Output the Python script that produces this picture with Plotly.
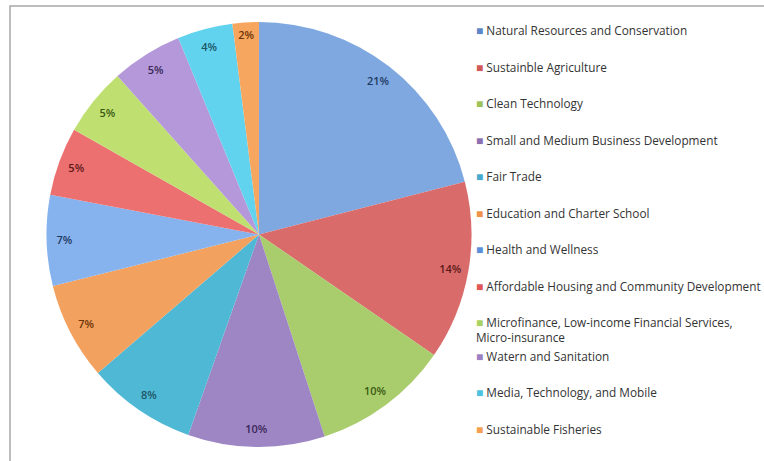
import plotly.graph_objects as go

categories = [
    "Natural Resources and Conservation",
    "Sustainble Agriculture",
    "Clean Technology",
    "Small and Medium Business Development",
    "Fair Trade",
    "Education and Charter School",
    "Health and Wellness",
    "Affordable Housing and Community Development",
    "Microfinance, Low-income Financial Services,<br>Micro-insurance",
    "Watern and Sanitation",
    "Media, Technology, and Mobile",
    "Sustainable Fisheries",
]
# shares (%); they round to the printed labels
values = [21.0, 13.6, 10.4, 10.4, 8.3, 7.4, 6.9, 5.2, 5.2, 5.4, 4.2, 2.0]

slice_colors = ["#7FA8E0", "#D96C6A", "#A9CD6C", "#9E85C4", "#4FB9D5", "#F3A15F",
                "#86B2EE", "#EC7070", "#BFE071", "#B498DA", "#62D3EE", "#F7A65F"]
legend_colors = ["#5B87C8", "#D05858", "#9DC25A", "#8A70B0", "#45AACB", "#F0924A",
                 "#5B8FDA", "#E05656", "#A8D260", "#9C80C4", "#4CC2E0", "#F5A050"]
text_colors = ["#1E3B63", "#5E1A1A", "#3B5A12", "#3A2858", "#1C5566", "#6E3508",
               "#1E3B63", "#5E1A1A", "#3B5A12", "#3A2858", "#1C5566", "#6E3508"]
groups = ["g0", "g1", "g2", "g3", "g4", "g5", "g6", "g7", "g8", "g8", "g10", "g11"]

pie_domain = dict(x=[46.5/764, 471.5/764], y=[14/461, 439/461])

fig = go.Figure()
# Base pie: the coloured slices
fig.add_trace(go.Pie(
    labels=categories, values=values, sort=False, direction="clockwise", rotation=0,
    marker=dict(colors=slice_colors, line=dict(width=0)),
    textinfo="none", showlegend=False, hoverinfo="label+percent",
    domain=pie_domain,
))
# Transparent ring carrying the percentage labels near the outer edge
fig.add_trace(go.Pie(
    labels=categories, values=values, sort=False, direction="clockwise", rotation=0,
    hole=0.83,
    marker=dict(colors=["rgba(0,0,0,0)"] * len(values), line=dict(width=0)),
    textposition="inside", insidetextorientation="horizontal",
    texttemplate="%{percent:.0%}",
    textfont=dict(family="Open Sans", size=11, color=text_colors, weight=600),
    showlegend=False, hoverinfo="skip",
    domain=pie_domain,
))
# Legend entries: small coloured square glyph followed by the category name
for name, col, grp in zip(categories, legend_colors, groups):
    fig.add_trace(go.Scatter(
        x=[None], y=[None], mode="markers", legendgroup=grp,
        name=f"<span style='color:{col};font-size:12px'>■</span> {name}",
        marker=dict(symbol="square", size=1, color="rgba(0,0,0,0)"),
    ))

fig.update_layout(
    width=764, height=461, margin=dict(l=0, r=0, t=0, b=0, autoexpand=False),
    paper_bgcolor="white", plot_bgcolor="white",
    font=dict(family="Open Sans", size=11.8, color="#333333"),
    xaxis=dict(visible=False), yaxis=dict(visible=False),
    legend=dict(x=436/764, y=1 - 16/461, xanchor="left", yanchor="top",
                tracegroupgap=17.5, valign="top", itemwidth=30,
                bgcolor="rgba(0,0,0,0)",
                font=dict(family="Open Sans", size=11.8, color="#333333")),
    shapes=[dict(type="rect", xref="paper", yref="paper",
                 x0=10/764, x1=1 + 3/764, y0=-3/461, y1=1 - 6/461,
                 line=dict(color="#A8A8A8", width=1.5), fillcolor="rgba(0,0,0,0)")],
)
fig.write_html("out.html", config={"displayModeBar": False},
               post_script="document.body.style.margin='0';document.body.style.overflow='hidden';")
